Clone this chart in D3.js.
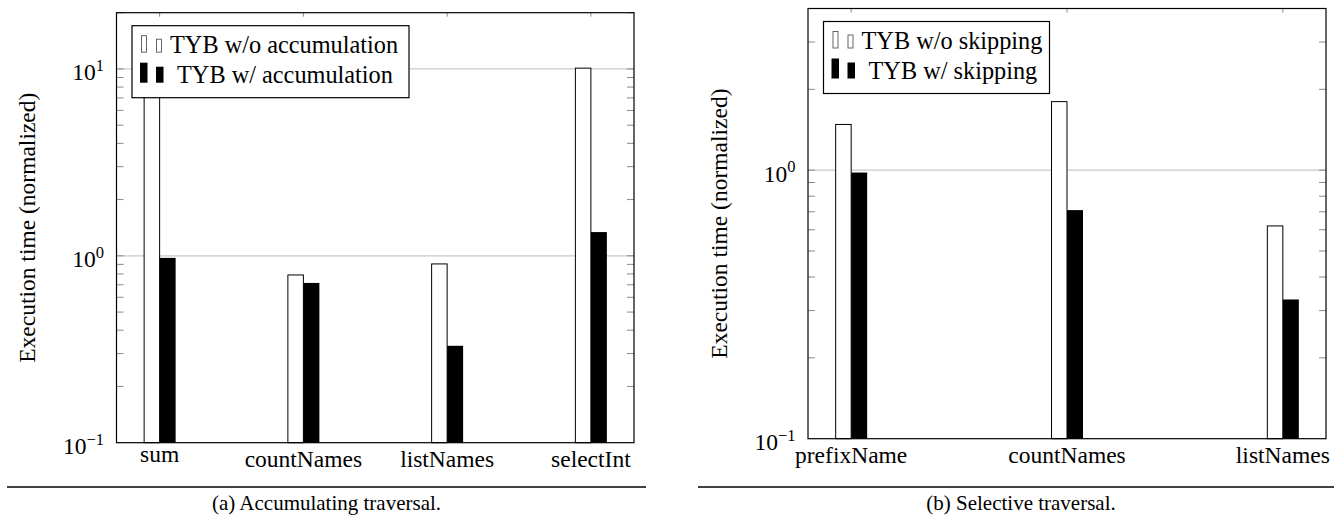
<!DOCTYPE html>
<html>
<head>
<meta charset="utf-8">
<script src="https://cdn.jsdelivr.net/npm/d3@7"></script>
<style>
  html, body { margin: 0; padding: 0; background: #fff; }
  svg text { font-family: "Liberation Serif" !important; }
</style>
</head>
<body>
<svg id="chart" width="1334" height="516" font-family="Liberation Serif"></svg>
<script>
// ---------- data ----------
const leftCategories = ["sum", "countNames", "listNames", "selectInt"];
const leftWithout = [10, 0.79, 0.905, 10.1];     // TYB w/o accumulation
const leftWith = [0.975, 0.716, 0.33, 1.34];     // TYB w/ accumulation
const leftLegend = ["TYB w/o accumulation", "TYB w/ accumulation"];
const leftCaption = "(a) Accumulating traversal.";
const leftYDomain = [0.1, 20];
const leftMajorTicks = [0.1, 1, 10];

const rightCategories = ["prefixName", "countNames", "listNames"];
const rightWithout = [1.48, 1.80, 0.62];         // TYB w/o skipping
const rightWith = [0.98, 0.71, 0.33];            // TYB w/ skipping
const rightLegend = ["TYB w/o skipping", "TYB w/ skipping"];
const rightCaption = "(b) Selective traversal.";
const rightYDomain = [0.1, 4];
const rightMajorTicks = [0.1, 1];

const yLabel = "Execution time (normalized)";
const supMap = { "-1": "\u22121", "0": "0", "1": "1" };

// ---------- drawing ----------
const svg = d3.select("#chart");
svg.append("rect").attr("width", 1334).attr("height", 516).attr("fill", "#fff");

function addText(parent, x, y, size, str, anchor) {
  return parent.append("text")
    .attr("x", x).attr("y", y)
    .attr("font-family", "Liberation Serif")
    .attr("font-size", size)
    .attr("text-anchor", anchor || "start")
    .attr("fill", "#000")
    .text(str);
}

function drawPanel(cfg) {
  const { x0, x1, y0, y1, cats, without, withv, domain, majors, legend, caption, capLine, capCenter } = cfg;
  const g = svg.append("g");
  const barW = 16;
  const n = cats.length;

  const x = d3.scalePoint().domain(cats).range([x0, x1]).padding(0.1 * (n - 1));
  const y = d3.scaleLog().domain(domain).range([y1, y0]);

  const minors = [];
  for (let e = -1; e <= 1; e++) {
    for (let m = 2; m <= 9; m++) {
      const v = m * Math.pow(10, e);
      if (v > domain[0] && v <= domain[1] + 1e-9) minors.push(v);
    }
  }

  g.selectAll(null).data(majors.filter(v => v > domain[0]))
    .enter().append("line")
    .attr("x1", x0).attr("x2", x1)
    .attr("y1", d => y(d)).attr("y2", d => y(d))
    .attr("stroke", "#c8c8c8").attr("stroke-width", 1.3);

  const tickVals = minors.concat(majors.filter(v => v > domain[0]));
  [[x0, 7], [x1, -7]].forEach(([xx, len]) => {
    g.selectAll(null).data(tickVals).enter().append("line")
      .attr("x1", xx).attr("x2", xx + len)
      .attr("y1", d => y(d)).attr("y2", d => y(d))
      .attr("stroke", "#8a8a8a").attr("stroke-width", 1);
  });

  g.selectAll(null).data(cats).enter().append("line")
    .attr("x1", d => x(d)).attr("x2", d => x(d))
    .attr("y1", y0).attr("y2", y0 + 4)
    .attr("stroke", "#8a8a8a").attr("stroke-width", 1);

  g.selectAll(null).data(cats).enter().append("rect")
    .attr("x", d => x(d) - barW + 0.5)
    .attr("width", barW - 0.5)
    .attr("y", (d, i) => y(without[i]))
    .attr("height", (d, i) => y1 - y(without[i]))
    .attr("fill", "#fff").attr("stroke", "#000").attr("stroke-width", 1);
  g.selectAll(null).data(cats).enter().append("rect")
    .attr("x", d => x(d))
    .attr("width", barW)
    .attr("y", (d, i) => y(withv[i]))
    .attr("height", (d, i) => y1 - y(withv[i]))
    .attr("fill", "#000");

  g.append("rect").attr("x", x0).attr("y", y0)
    .attr("width", x1 - x0).attr("height", y1 - y0)
    .attr("fill", "none").attr("stroke", "#000").attr("stroke-width", 1.2);

  // y tick labels 10^k
  majors.forEach(v => {
    const t = addText(g, x0 - 12.5, y(v) + 11.5, 23.5, null, "end");
    t.append("tspan").text("10");
    t.append("tspan").attr("dy", -9.5).attr("font-size", 16.5)
      .text(supMap[String(Math.round(Math.log10(v)))]);
  });

  // x tick labels, top-anchored like pgfplots
  const hasAsc = s => /[A-Zbdfhklti]/.test(s);
  cats.forEach(c => {
    addText(g, x(c), y1 + (hasAsc(c) ? 24 : 19.5), 23.5, c, "middle");
  });

  // y axis label
  addText(g, 0, 0, 23.5, yLabel, "middle")
    .attr("transform", `translate(${x0 - 81.5},${(y0 + y1) / 2}) rotate(-90)`);

  // legend
  const lx = x0 + 15.5, ly = y0 + 13;
  const lg = g.append("g");
  lg.append("rect").attr("x", lx).attr("y", ly)
    .attr("width", cfg.legendW).attr("height", 72)
    .attr("fill", "#fff").attr("stroke", "#000").attr("stroke-width", 1.2);
  lg.append("rect").attr("x", lx + 9.5).attr("y", ly + 10).attr("width", 5).attr("height", 16.5)
    .attr("fill", "#fff").attr("stroke", "#555").attr("stroke-width", 0.9);
  lg.append("rect").attr("x", lx + 24.5).attr("y", ly + 13.5).attr("width", 5).attr("height", 13)
    .attr("fill", "#fff").attr("stroke", "#555").attr("stroke-width", 0.9);
  lg.append("rect").attr("x", lx + 8).attr("y", ly + 37).attr("width", 7.5).attr("height", 20)
    .attr("fill", "#000");
  lg.append("rect").attr("x", lx + 24).attr("y", ly + 41).attr("width", 7.5).attr("height", 16)
    .attr("fill", "#000");
  addText(lg, lx + 38, ly + 27.5, 24.3, legend[0]);
  addText(lg, lx + 45, ly + 57.5, 24.3, legend[1]);

  // caption
  svg.append("line").attr("x1", capLine[0]).attr("x2", capLine[1])
    .attr("y1", 487).attr("y2", 487)
    .attr("stroke", "#000").attr("stroke-width", 1.3);
  addText(svg, capCenter, 510, 21, caption, "middle");
}

drawPanel({
  x0: 116.5, x1: 634, y0: 12.7, y1: 442.7,
  cats: leftCategories, without: leftWithout, withv: leftWith,
  domain: leftYDomain, majors: leftMajorTicks, legend: leftLegend,
  legendW: 277, caption: leftCaption, capLine: [7, 646], capCenter: 326.5
});
drawPanel({
  x0: 808, x1: 1326, y0: 8.5, y1: 438.7,
  cats: rightCategories, without: rightWithout, withv: rightWith,
  domain: rightYDomain, majors: rightMajorTicks, legend: rightLegend,
  legendW: 226, caption: rightCaption, capLine: [698, 1334], capCenter: 1021
});
</script>
</body>
</html>
